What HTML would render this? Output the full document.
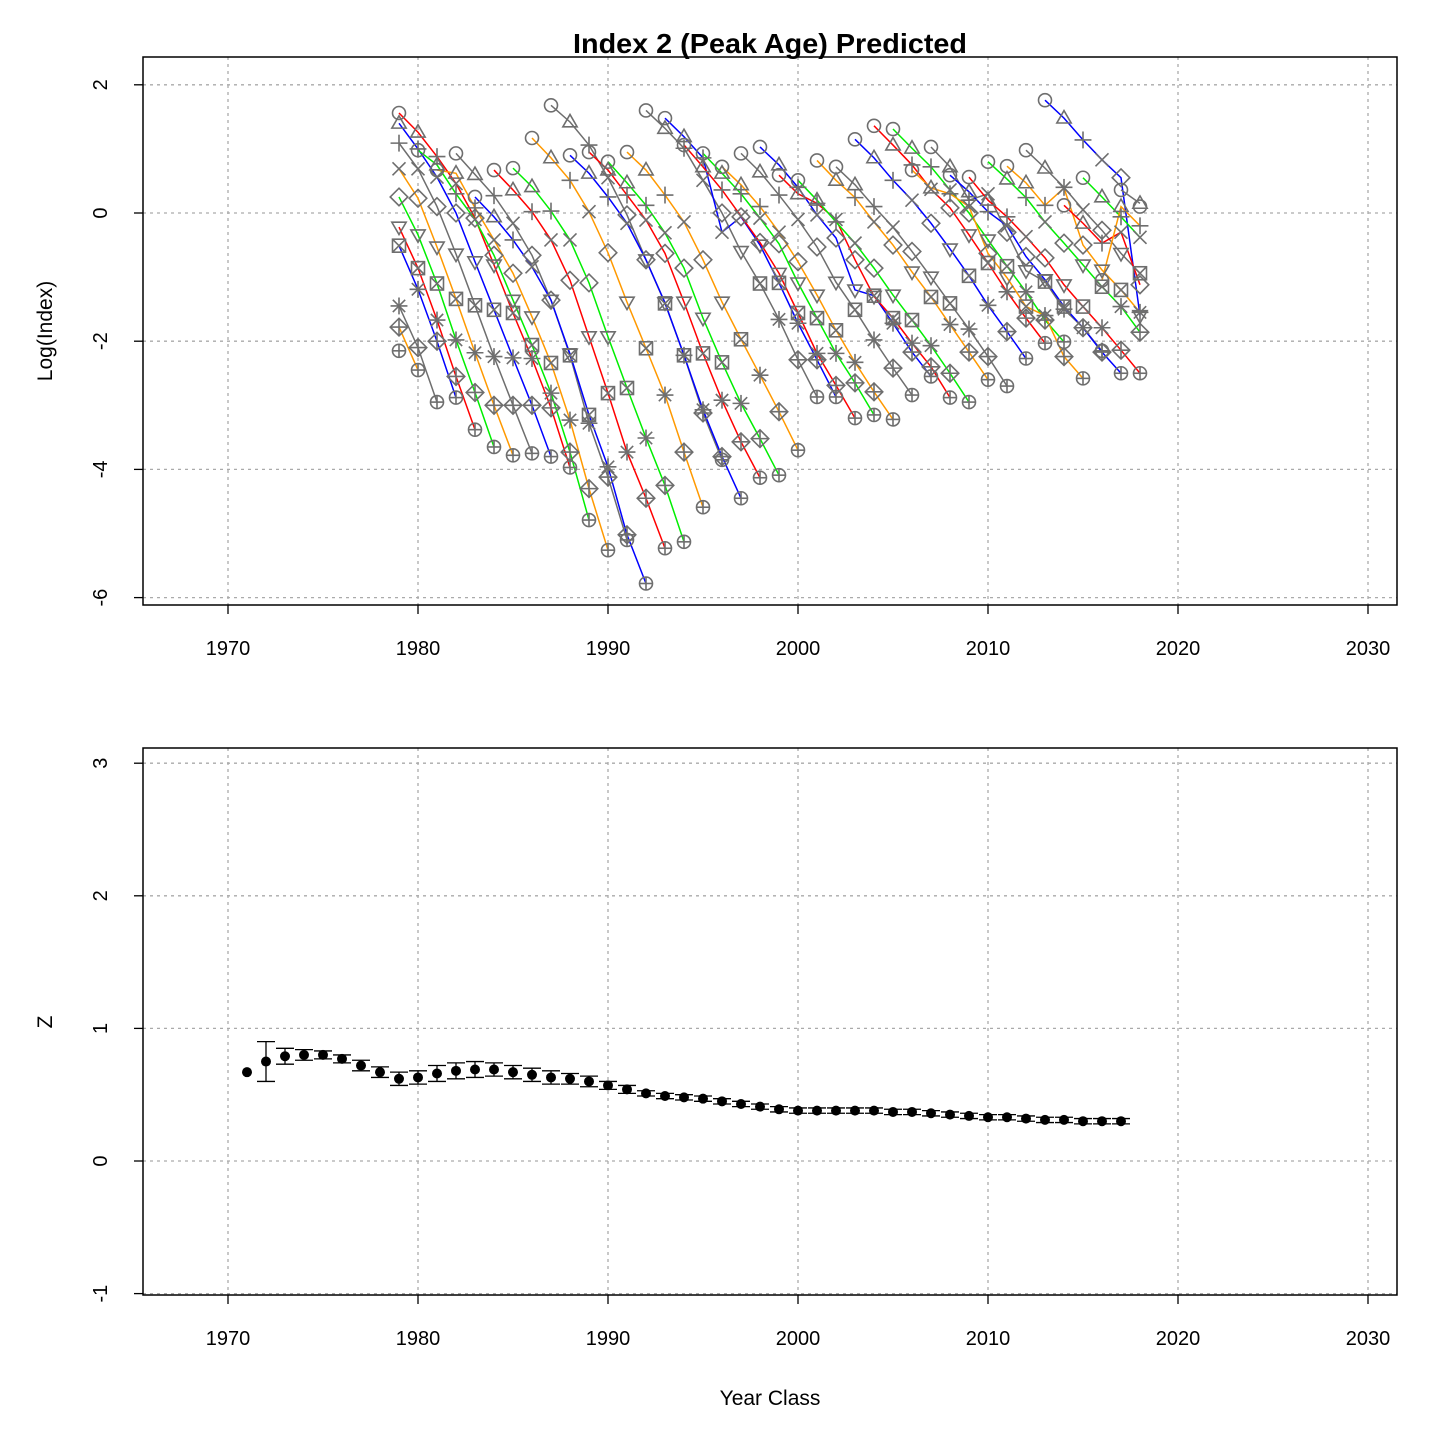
<!DOCTYPE html>
<html><head><meta charset="utf-8"><style>
html,body{margin:0;padding:0;background:#fff;}
svg{display:block;font-family:"Liberation Sans",Arial,sans-serif;}
</style></head><body>
<svg id="chart" width="1440" height="1440" viewBox="0 0 1440 1440" xmlns="http://www.w3.org/2000/svg">
<rect width="1440" height="1440" fill="#fff"/>
<text x="770" y="53" text-anchor="middle" font-size="28" font-weight="bold" textLength="394" lengthAdjust="spacingAndGlyphs">Index 2 (Peak Age) Predicted</text>
<text transform="translate(52,331) rotate(-90)" text-anchor="middle" font-size="21">Log(Index)</text>
<text transform="translate(52,1022) rotate(-90)" text-anchor="middle" font-size="21">Z</text>
<text x="770" y="1405" text-anchor="middle" font-size="21">Year Class</text>
<g id="top"></g>
<g id="bot"></g>
</svg>
<script>
const years = [1979,1980,1981,1982,1983,1984,1985,1986,1987,1988,1989,1990,1991,1992,1993,1994,1995,1996,1997,1998,1999,2000,2001,2002,2003,2004,2005,2006,2007,2008,2009,2010,2011,2012,2013,2014,2015,2016,2017,2018];
const age1 = [1.56,0.98,0.67,0.93,0.25,0.67,0.70,1.17,1.68,0.90,0.95,0.80,0.95,1.60,1.48,1.06,0.93,0.72,0.93,1.03,0.59,0.51,0.82,0.72,1.15,1.36,1.31,0.67,1.03,0.59,0.56,0.80,0.73,0.98,1.76,0.12,0.55,-1.05,0.36,0.10];
const age2 = [1.40,1.26,0.75,0.62,0.60,-0.06,0.36,0.41,0.86,1.42,0.62,0.67,0.47,0.67,1.32,1.19,0.72,0.62,0.44,0.64,0.75,0.30,0.20,0.51,0.44,0.86,1.06,1.01,0.39,0.72,0.33,0.20,0.53,0.47,0.70,1.48,-0.16,0.25,0.10,0.15];
const age3 = [1.09,1.00,0.88,0.30,0.08,0.27,-0.42,0.02,0.03,0.51,1.06,0.25,0.28,0.12,0.28,1.01,0.86,0.36,0.30,0.10,0.28,0.40,0.15,-0.14,0.24,0.10,0.51,0.75,0.72,0.30,0.20,0.02,-0.06,0.24,0.12,0.40,1.14,-0.47,-0.06,-0.20];
const age4 = [0.69,0.69,0.56,0.46,-0.10,-0.42,-0.16,-0.84,-0.42,-0.42,0.02,0.55,-0.16,-0.11,-0.31,-0.14,0.51,-0.30,-0.05,-0.08,-0.30,-0.10,-0.03,-0.10,-0.47,-0.14,-0.22,0.20,0.37,0.36,0.10,0.30,-0.20,-0.37,-0.14,0.39,0.05,0.83,-0.30,-0.38];
const age5 = [0.25,0.23,0.10,0.00,-0.08,-0.66,-0.94,-0.66,-1.36,-1.05,-1.09,-0.62,-0.03,-0.73,-0.63,-0.86,-0.73,0.00,-0.06,-0.46,-0.48,-0.76,-0.53,-0.39,-0.73,-0.86,-0.50,-0.60,-0.16,0.08,0.00,-0.63,-0.30,-0.68,-0.70,-0.47,-0.50,-0.27,0.55,-1.12];
const age6 = [-0.22,-0.34,-0.53,-0.64,-0.76,-0.81,-1.36,-1.62,-1.36,-2.20,-1.93,-1.93,-1.39,-0.73,-1.40,-1.39,-1.64,-1.39,-0.60,-0.50,-0.94,-1.09,-1.28,-1.08,-1.20,-1.30,-1.28,-0.92,-1.00,-0.56,-0.34,-0.42,-1.01,-0.90,-1.04,-1.12,-0.81,-0.89,-0.63,-1.60];
const age7 = [-0.51,-0.86,-1.10,-1.34,-1.44,-1.51,-1.56,-2.06,-2.34,-2.22,-3.15,-2.81,-2.73,-2.11,-1.41,-2.22,-2.19,-2.33,-1.97,-1.10,-1.09,-1.56,-1.64,-1.83,-1.51,-1.29,-1.64,-1.67,-1.31,-1.41,-0.98,-0.78,-0.83,-1.46,-1.07,-1.46,-1.46,-1.15,-1.20,-0.94];
const age8 = [-1.45,-1.19,-1.67,-1.98,-2.18,-2.24,-2.26,-2.27,-2.81,-3.23,-3.28,-3.96,-3.73,-3.51,-2.84,-2.22,-3.07,-2.92,-2.97,-2.53,-1.66,-1.72,-2.19,-2.19,-2.33,-1.98,-1.72,-2.03,-2.07,-1.74,-1.81,-1.44,-1.23,-1.23,-1.60,-1.50,-1.79,-1.79,-1.46,-1.55];
const age9 = [-1.78,-2.10,-2.00,-2.55,-2.80,-3.00,-3.00,-3.00,-3.04,-3.73,-4.30,-4.12,-5.02,-4.45,-4.25,-3.73,-3.12,-3.80,-3.57,-3.52,-3.10,-2.29,-2.29,-2.69,-2.65,-2.79,-2.42,-2.17,-2.40,-2.50,-2.17,-2.24,-1.85,-1.64,-1.67,-2.24,-1.79,-2.17,-2.14,-1.86];
const age10 = [-2.15,-2.45,-2.95,-2.88,-3.38,-3.65,-3.78,-3.75,-3.80,-3.97,-4.79,-5.26,-5.10,-5.78,-5.23,-5.13,-4.59,-3.85,-4.45,-4.13,-4.09,-3.70,-2.87,-2.87,-3.20,-3.15,-3.22,-2.84,-2.55,-2.88,-2.95,-2.60,-2.70,-2.27,-2.03,-2.01,-2.58,-2.15,-2.50,-2.50];
const ages = [age1,age2,age3,age4,age5,age6,age7,age8,age9,age10];

const zYears = [1971,1972,1973,1974,1975,1976,1977,1978,1979,1980,1981,1982,1983,1984,1985,1986,1987,1988,1989,1990,1991,1992,1993,1994,1995,1996,1997,1998,1999,2000,2001,2002,2003,2004,2005,2006,2007,2008,2009,2010,2011,2012,2013,2014,2015,2016,2017];
const zValues = [0.67,0.75,0.79,0.80,0.80,0.77,0.72,0.67,0.62,0.63,0.66,0.68,0.69,0.69,0.67,0.65,0.63,0.62,0.60,0.57,0.54,0.51,0.49,0.48,0.47,0.45,0.43,0.41,0.39,0.38,0.38,0.38,0.38,0.38,0.37,0.37,0.36,0.35,0.34,0.33,0.33,0.32,0.31,0.31,0.30,0.30,0.30];
const zErrors = [0,0.15,0.06,0.04,0.03,0.03,0.04,0.04,0.05,0.05,0.06,0.06,0.06,0.05,0.05,0.05,0.05,0.04,0.04,0.03,0.03,0.02,0.02,0.02,0.02,0.02,0.02,0.02,0.02,0.02,0.02,0.02,0.02,0.02,0.02,0.02,0.02,0.02,0.02,0.02,0.02,0.02,0.02,0.02,0.02,0.02,0.02];
const xTicks = [1970,1980,1990,2000,2010,2020,2030];
const topYTicks = [-6,-4,-2,0,2];
const botYTicks = [-1,0,1,2,3];

const NS="http://www.w3.org/2000/svg";
function mk(parent,tag,attrs){const e=document.createElementNS(NS,tag);for(const k in attrs)e.setAttribute(k,attrs[k]);parent.appendChild(e);return e;}
const X = yr => 228 + (yr-1970)*19;
const YT = v => 213 - v*64.1;
const YB = v => 1161 - v*132.6;

function axes(g, top, bottom, yt, yfn, prefix){
  xTicks.forEach(t=>{
    const l=mk(g,'line',{x1:X(t),x2:X(t),y1:top,y2:bottom,stroke:'#aaa','stroke-width':1.3,'stroke-dasharray':'3,4'});
    
    
    const tk=mk(g,'line',{x1:X(t),x2:X(t),y1:bottom,y2:bottom+9,stroke:'#000','stroke-width':1.3});
    
    
    const tx=mk(g,'text',{x:X(t),y:bottom+50,'text-anchor':'middle','font-size':20});
    tx.textContent=t;
    
    
  });
  yt.forEach(t=>{
    const y=yfn(t);
    const l=mk(g,'line',{x1:143,x2:1397,y1:y,y2:y,stroke:'#aaa','stroke-width':1.3,'stroke-dasharray':'3,4'});
    
    
    const tk=mk(g,'line',{x1:134,x2:143,y1:y,y2:y,stroke:'#000','stroke-width':1.3});
    
    
    const tx=mk(g,'text',{transform:`translate(107,${y}) rotate(-90)`,'text-anchor':'middle','font-size':20});
    tx.textContent=t;
    
    
  });
  const b=mk(g,'rect',{x:143,y:top,width:1254,height:bottom-top,fill:'none',stroke:'#000','stroke-width':1.5});
  
  
}

const topG=document.getElementById('top');
axes(topG,57,605,topYTicks,YT,'top');
const colors=['#ff9900','#6e6e6e','#0000ff','#ff0000','#00ee00'];
for(let c=1969;c<=2017;c++){
  const pts=[];
  for(let a=1;a<=10;a++){const yr=c+a;const i=years.indexOf(yr);if(i>=0)pts.push([X(yr),YT(ages[a-1][i])]);}
  if(pts.length<2)continue;
  const pl=mk(topG,'polyline',{points:pts.map(p=>p.join(',')).join(' '),fill:'none',stroke:colors[((c%5)+5)%5],'stroke-width':1.5});
  
  
}
const G='#6e6e6e';
function sym(g,a,x,y){
  const r=6.5,s={stroke:G,'stroke-width':1.6,fill:'none'};
  const grp=mk(g,'g',s);
  const tri=(d)=>mk(grp,'polygon',{points:`${x-r*1.1},${y+d*r*0.75} ${x+r*1.1},${y+d*r*0.75} ${x},${y-d*r*1.15}`});
  const plus=()=>{mk(grp,'line',{x1:x-r*1.3,x2:x+r*1.3,y1:y,y2:y});mk(grp,'line',{x1:x,x2:x,y1:y-r*1.3,y2:y+r*1.3});};
  const cross=(k)=>{mk(grp,'line',{x1:x-k,x2:x+k,y1:y-k,y2:y+k});mk(grp,'line',{x1:x-k,x2:x+k,y1:y+k,y2:y-k});};
  const dia=()=>mk(grp,'polygon',{points:`${x},${y-r*1.35} ${x+r*1.35},${y} ${x},${y+r*1.35} ${x-r*1.35},${y}`});
  switch(a){
    case 1: mk(grp,'circle',{cx:x,cy:y,r:r});break;
    case 2: tri(1);break;
    case 3: plus();break;
    case 4: cross(r);break;
    case 5: dia();break;
    case 6: tri(-1);break;
    case 7: mk(grp,'rect',{x:x-r,y:y-r,width:2*r,height:2*r});cross(r);break;
    case 8: plus();cross(r*0.95);break;
    case 9: dia();mk(grp,'line',{x1:x-r*1.35,x2:x+r*1.35,y1:y,y2:y});mk(grp,'line',{x1:x,x2:x,y1:y-r*1.35,y2:y+r*1.35});break;
    case 10: mk(grp,'circle',{cx:x,cy:y,r:r});mk(grp,'line',{x1:x-r,x2:x+r,y1:y,y2:y});mk(grp,'line',{x1:x,x2:x,y1:y-r,y2:y+r});break;
  }
  return grp;
}
years.forEach((yr,i)=>{
  for(let a=1;a<=10;a++){
    const p=sym(topG,a,X(yr),YT(ages[a-1][i]));
    
    
  }
});

const botG=document.getElementById('bot');
axes(botG,748,1295,botYTicks,YB,'bottom');
zYears.forEach((yr,i)=>{
  const x=X(yr),v=zValues[i],e=zErrors[i];
  if(e>0){
    const eb=mk(botG,'path',{d:`M${x},${YB(v-e)}V${YB(v+e)}M${x-9},${YB(v-e)}H${x+9}M${x-9},${YB(v+e)}H${x+9}`,stroke:'#000','stroke-width':1.3,fill:'none'});
    
    
  }
  const c=mk(botG,'circle',{cx:x,cy:YB(v),r:5,fill:'#000'});
  
  
});
</script>
</body></html>
